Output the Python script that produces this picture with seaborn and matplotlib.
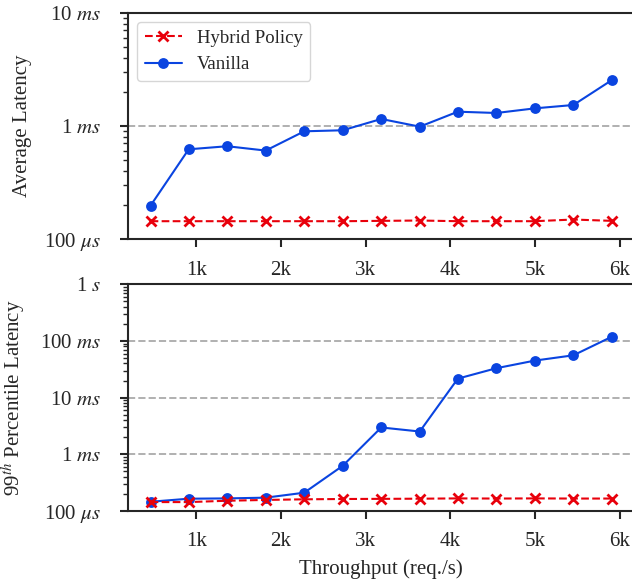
import numpy as np
import pandas as pd
import matplotlib
matplotlib.use("Agg")
import matplotlib.pyplot as plt
import seaborn as sns

# --- data (latency in seconds)
throughput = [460, 910, 1365, 1820, 2275, 2730, 3185, 3640, 4090, 4545, 5000, 5455, 5910]

avg_hybrid = [144e-6, 144e-6, 144e-6, 144e-6, 144e-6, 144e-6, 145e-6, 146e-6, 144e-6, 144e-6, 144e-6, 149e-6, 145e-6]
avg_vanilla = [0.198e-3, 0.622e-3, 0.662e-3, 0.606e-3, 0.897e-3, 0.916e-3, 1.153e-3, 0.986e-3,
               1.337e-3, 1.302e-3, 1.431e-3, 1.532e-3, 2.545e-3]

p99_hybrid = [142e-6, 142e-6, 150e-6, 155e-6, 159e-6, 161e-6, 162e-6, 163e-6, 165e-6, 164e-6, 165e-6, 164e-6, 164e-6]
p99_vanilla = [144e-6, 163e-6, 165e-6, 170e-6, 208e-6, 0.622e-3, 2.96e-3, 2.51e-3,
               21.6e-3, 33e-3, 45e-3, 55.8e-3, 119e-3]

avg_ticks = [1e-4, 1e-3, 1e-2]
avg_ticklabels = [r"100 $\mu s$", r"1 $ms$", r"10 $ms$"]
p99_ticks = [1e-4, 1e-3, 1e-2, 1e-1, 1]
p99_ticklabels = [r"100 $\mu s$", r"1 $ms$", r"10 $ms$", r"100 $ms$", r"1 $s$"]
x_ticks = [1000, 2000, 3000, 4000, 5000, 6000]
x_ticklabels = ["1k", "2k", "3k", "4k", "5k", "6k"]

sns.set_style("ticks")
plt.rcParams["font.family"] = ["Liberation Serif", "DejaVu Serif"]
plt.rcParams["mathtext.fontset"] = "stix"
plt.rcParams["font.size"] = 15

blue = "#0a44e0"
red = "#e8000b"

fig, axes = plt.subplots(2, 1, figsize=(6.32, 5.82), dpi=100)
fig.subplots_adjust(left=0.202, right=1.003, top=0.978, bottom=0.1225, hspace=0.2)

panels = [
    (axes[0], avg_hybrid, avg_vanilla, avg_ticks, avg_ticklabels, "Average Latency", -0.188),
    (axes[1], p99_hybrid, p99_vanilla, p99_ticks, p99_ticklabels, r"99$^{th}$ Percentile Latency", -0.196),
]

for ax, hyb, van, yt, ytl, ylab, labx in panels:
    df = pd.DataFrame({"x": throughput, "hybrid": hyb, "vanilla": van})
    ax.set_yscale("log")
    # dashed guide lines at the inner decades
    for y in yt[1:-1]:
        ax.axhline(y, color="#b0b0b0", ls="--", lw=1.4, zorder=0)
    sns.lineplot(data=df, x="x", y="vanilla", ax=ax, color=blue, marker="o", markersize=7.8,
                 markeredgewidth=0, markeredgecolor=blue, lw=1.5, label="Vanilla")
    sns.lineplot(data=df, x="x", y="hybrid", ax=ax, color=red, marker="x", markersize=6.5,
                 markeredgewidth=2, markeredgecolor=red, lw=1.5, ls="--", label="Hybrid Policy")
    ax.set_ylim(yt[0], yt[-1])
    ax.set_yticks(yt)
    ax.set_yticklabels(ytl)
    ax.set_xlim(189, 6170)
    ax.set_xticks(x_ticks)
    ax.set_xticklabels(x_ticklabels)
    ax.set_ylabel(ylab)
    ax.yaxis.set_label_coords(labx, 0.5)
    ax.set_xlabel("")
    ax.tick_params(axis="both", which="major", length=6, width=1.5, direction="out")
    ax.tick_params(axis="x", which="major", pad=9.5)
    ax.tick_params(axis="y", which="major", pad=13)
    ax.tick_params(axis="y", which="minor", length=3.5, width=1, direction="out")
    for sp in ["left", "bottom", "top"]:
        ax.spines[sp].set_linewidth(1.5)
    ax.spines["right"].set_visible(False)
    ax.get_legend().remove()

axes[1].set_xlabel("Throughput (req./s)", labelpad=6)

h, l = axes[0].get_legend_handles_labels()
axes[0].legend([h[1], h[0]], [l[1], l[0]], loc="upper left", fancybox=True,
               edgecolor="#cccccc", fontsize=13.5)

fig.savefig("out.png", dpi=100)
